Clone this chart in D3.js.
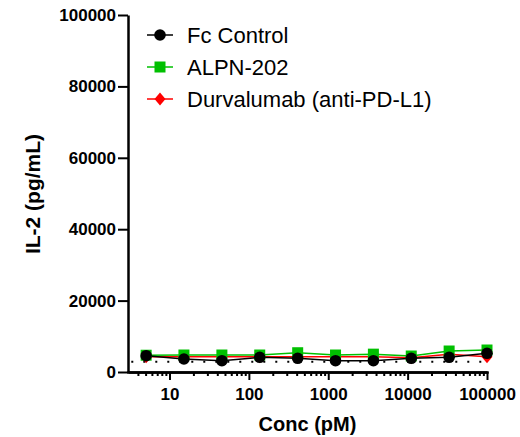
<!DOCTYPE html>
<html>
<head>
<meta charset="utf-8">
<script src="https://cdn.jsdelivr.net/npm/d3@7"></script>
<style>
  html, body { margin: 0; padding: 0; background: #fff; }
  svg { display: block; }
  text { font-family: Arial, "Liberation Sans", sans-serif; }
</style>
</head>
<body>
<svg id="chart" width="520" height="437"></svg>
<script>
// ---- data ----
const conc = [5.08, 15.2, 45.7, 137, 412, 1235, 3704, 11111, 33333, 100000];
const fcControl = [4560, 3640, 3160, 4120, 3840, 3160, 3160, 3840, 4120, 5240];
const alpn202 = [4700, 4760, 4760, 4760, 5400, 4760, 5000, 4480, 5880, 6160];
const durvalumab = [4300, 4300, 4250, 4300, 4300, 4300, 4250, 4000, 5000, 4300];
const baselineValue = 2900;
const seriesNames = ["Fc Control", "ALPN-202", "Durvalumab (anti-PD-L1)"];
const yTicks = [0, 20000, 40000, 60000, 80000, 100000];
const xMajorTicks = [10, 100, 1000, 10000, 100000];
const xMinorTicks = [4, 5, 6, 7, 8, 9, 20, 30, 40, 50, 60, 70, 80, 90, 200, 300, 400, 500, 600, 700, 800, 900,
  2000, 3000, 4000, 5000, 6000, 7000, 8000, 9000, 20000, 30000, 40000, 50000, 60000, 70000, 80000, 90000];
const xTitle = "Conc (pM)";
const yTitle = "IL-2 (pg/mL)";

// ---- layout ----
const svg = d3.select("#chart");
const x = d3.scaleLog().domain([3, 100000]).range([128, 487]);
const y = d3.scaleLinear().domain([0, 100000]).range([372, 15]);

const series = [
  { name: seriesNames[2], values: durvalumab, color: "#ff0000", shape: "diamond" },
  { name: seriesNames[1], values: alpn202, color: "#00c000", shape: "square" },
  { name: seriesNames[0], values: fcControl, color: "#000000", shape: "circle" }
];

function marker(sel, shape, color) {
  if (shape === "circle") {
    sel.append("circle").attr("r", 5.8).attr("fill", color);
  } else if (shape === "square") {
    sel.append("rect").attr("x", -5.5).attr("y", -5.5).attr("width", 11).attr("height", 11).attr("fill", color);
  } else {
    sel.append("path").attr("d", "M0,-6.5L5.5,0L0,6.5L-5.5,0Z").attr("fill", color);
  }
}

// baseline dotted line
svg.append("line")
  .attr("x1", x(3.3)).attr("x2", x(100000))
  .attr("y1", y(baselineValue)).attr("y2", y(baselineValue))
  .attr("stroke", "#000").attr("stroke-width", 2)
  .attr("stroke-dasharray", "2,10");

// series lines and markers
const line = d3.line().x((d, i) => x(conc[i])).y(d => y(d));
series.forEach(s => {
  svg.append("path").datum(s.values)
    .attr("d", line).attr("fill", "none")
    .attr("stroke", s.color).attr("stroke-width", 1.5);
});
series.forEach(s => {
  svg.append("g").selectAll("g").data(s.values).join("g")
    .attr("transform", (d, i) => `translate(${x(conc[i])},${y(d)})`)
    .each(function () { marker(d3.select(this), s.shape, s.color); });
});

// axes
const yAxis = svg.append("g").attr("transform", "translate(128,0)")
  .call(d3.axisLeft(y).tickValues(yTicks).tickFormat(d3.format("d")).tickSize(10).tickSizeOuter(0).tickPadding(2));
const xAxisMinor = svg.append("g").attr("transform", "translate(0,372)")
  .call(d3.axisBottom(x).tickValues(xMinorTicks).tickFormat("").tickSize(4).tickSizeOuter(0));
const xAxis = svg.append("g").attr("transform", "translate(0,372)")
  .call(d3.axisBottom(x).tickValues(xMajorTicks).tickFormat(d3.format("d")).tickSize(8).tickSizeOuter(0).tickPadding(8));

[yAxis, xAxis, xAxisMinor].forEach(a => {
  a.select(".domain").attr("stroke", "#000").attr("stroke-width", 2.5);
  a.selectAll(".tick line").attr("stroke", "#000").attr("stroke-width", 2);
  a.selectAll("text").attr("fill", "#000").style("font-size", "17px").style("font-weight", "bold")
    .style("font-family", "Arial, 'Liberation Sans', sans-serif");
});
xAxisMinor.select(".domain").attr("stroke-linecap", "square");

// titles
svg.append("text").attr("x", 307.5).attr("y", 431).attr("text-anchor", "middle")
  .style("font-size", "20px").style("font-weight", "bold").text(xTitle);
svg.append("text").attr("transform", "translate(40,194) rotate(-90)").attr("text-anchor", "middle")
  .style("font-size", "21px").style("font-weight", "bold").text(yTitle);

// legend
const legendOrder = [
  { name: seriesNames[0], color: "#000000", shape: "circle" },
  { name: seriesNames[1], color: "#00c000", shape: "square" },
  { name: seriesNames[2], color: "#ff0000", shape: "diamond" }
];
const legend = svg.append("g").selectAll("g").data(legendOrder).join("g")
  .attr("transform", (d, i) => `translate(160,${35 + i * 32})`);
legend.append("line").attr("x1", -13).attr("x2", 13)
  .attr("stroke", d => d.color).attr("stroke-width", 1.5);
legend.each(function (d) { marker(d3.select(this), d.shape, d.color); });
legend.append("text").attr("x", 27).attr("dy", "0.36em")
  .style("font-size", "22px").attr("fill", "#000").text(d => d.name);
</script>
</body>
</html>
